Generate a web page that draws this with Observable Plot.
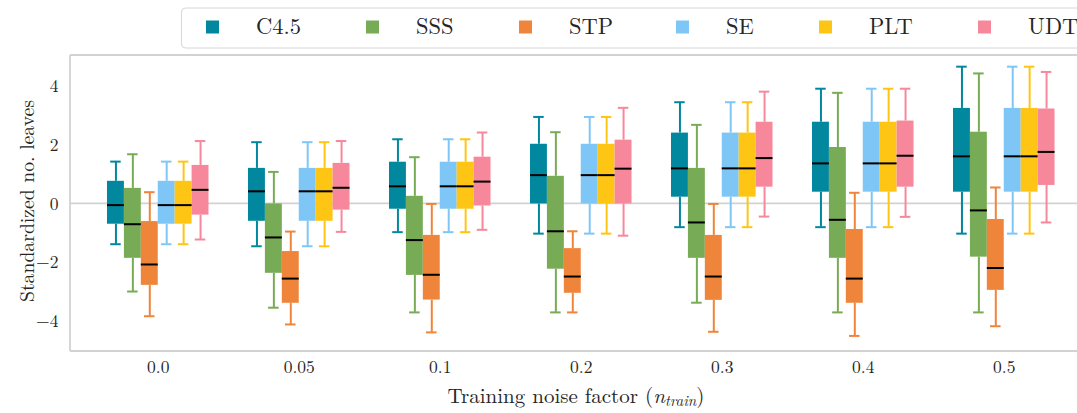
<!DOCTYPE html>
<html>
<head>
<meta charset="utf-8">
<script src="https://cdn.jsdelivr.net/npm/d3@7"></script>
<script src="https://cdn.jsdelivr.net/npm/@observablehq/plot@0.6"></script>
<style>
  html, body { margin: 0; padding: 0; background: #fff; overflow: hidden; }
  body { width: 1077px; height: 413px; font-family: "Latin Modern Roman", "Liberation Serif", serif; color: #262626; }
  #legend { width: 1077px; height: 50px; overflow: hidden; }
  #legend svg, #chart svg { display: block; }
</style>
</head>
<body>
<div id="legend"></div>
<div id="chart"></div>
<script>
// ---- data ----
const groups = ["0.0", "0.05", "0.1", "0.2", "0.3", "0.4", "0.5"];
const series = ["C4.5", "SSS", "STP", "SE", "PLT", "UDT"];
const colors = ["#01879e", "#78ab56", "#ef853b", "#7ec6f5", "#fec514", "#f7889c"];
const yTicks = [-4, -2, 0, 2, 4];

// rows: series (C4.5, SSS, STP, SE, PLT, UDT); columns: groups
const whiskerLow = [
  [-1.37, -1.44, -0.96, -1.01, -0.79, -0.79, -1.01],
  [-2.98, -3.53, -3.69, -3.69, -3.36, -3.69, -3.69],
  [-3.82, -4.10, -4.37, -3.69, -4.35, -4.49, -4.16],
  [-1.37, -1.44, -0.96, -1.01, -0.79, -0.79, -1.01],
  [-1.37, -1.44, -0.96, -1.01, -0.79, -0.79, -1.01],
  [-1.21, -0.95, -0.88, -1.08, -0.43, -0.44, -0.63]
];
const quartile1 = [
  [-0.69, -0.59, -0.18, 0.00, 0.23, 0.40, 0.40],
  [-1.85, -2.36, -2.43, -2.22, -1.85, -1.85, -1.81],
  [-2.77, -3.38, -3.27, -3.04, -3.28, -3.38, -2.94],
  [-0.69, -0.59, -0.18, 0.00, 0.23, 0.40, 0.40],
  [-0.69, -0.59, -0.18, 0.00, 0.23, 0.40, 0.40],
  [-0.38, -0.21, -0.07, 0.00, 0.57, 0.57, 0.63]
];
const median = [
  [-0.04, 0.43, 0.60, 0.98, 1.21, 1.38, 1.62],
  [-0.69, -1.14, -1.23, -0.93, -0.63, -0.54, -0.22],
  [-2.06, -2.54, -2.41, -2.47, -2.47, -2.54, -2.18],
  [-0.04, 0.43, 0.60, 0.98, 1.21, 1.38, 1.62],
  [-0.04, 0.43, 0.60, 0.98, 1.21, 1.38, 1.62],
  [0.48, 0.55, 0.76, 1.20, 1.56, 1.64, 1.77]
];
const quartile3 = [
  [0.77, 1.21, 1.42, 2.03, 2.41, 2.78, 3.25],
  [0.53, 0.00, 0.26, 0.94, 1.21, 1.92, 2.44],
  [-0.60, -1.62, -1.07, -1.52, -1.07, -0.87, -0.53],
  [0.77, 1.21, 1.42, 2.03, 2.41, 2.78, 3.25],
  [0.77, 1.21, 1.42, 2.03, 2.41, 2.78, 3.25],
  [1.31, 1.38, 1.59, 2.17, 2.78, 2.82, 3.23]
];
const whiskerHigh = [
  [1.44, 2.10, 2.20, 2.96, 3.46, 3.92, 4.67],
  [1.69, 1.09, 1.59, 2.44, 2.69, 3.78, 4.44],
  [0.40, -0.94, 0.00, -0.93, 0.00, 0.38, 0.56],
  [1.44, 2.10, 2.20, 2.96, 3.46, 3.92, 4.67],
  [1.44, 2.10, 2.20, 2.96, 3.46, 3.92, 4.67],
  [2.14, 2.14, 2.43, 3.27, 3.82, 3.92, 4.49]
];

const rows = series.flatMap((s, i) => groups.map((g, j) => ({
  series: s, group: g,
  lo: whiskerLow[i][j], q1: quartile1[i][j], med: median[i][j],
  q3: quartile3[i][j], hi: whiskerHigh[i][j]
})));

const FONT = "'Latin Modern Roman', 'Liberation Serif', serif";
const INK = "#262626";

// ---- legend (own small SVG above the chart) ----
const legendLeft = [206, 366, 519, 676, 819, 978];
const lg = d3.select("#legend").append("svg").attr("width", 1077).attr("height", 50);
lg.append("rect").attr("x", 181.5).attr("y", 8).attr("width", 930).attr("height", 40).attr("rx", 4)
  .attr("fill", "#fff").attr("stroke", "#d6d6d6").attr("stroke-width", 1);
series.forEach((s, i) => {
  lg.append("rect").attr("x", legendLeft[i]).attr("y", 20.5).attr("width", 13).attr("height", 13).attr("fill", colors[i]);
  lg.append("text").attr("x", legendLeft[i] + 50).attr("y", 33.5).attr("fill", INK)
    .style("font-family", FONT).style("font-size", "22.5px").text(s);
});

// ---- chart ----
const W = 1077, H = 363, mL = 70, mT = 5, mB = 62;
const chart = Plot.plot({
  width: W, height: H,
  marginTop: mT, marginBottom: mB, marginLeft: mL, marginRight: 0,
  style: { fontFamily: FONT, fontSize: "17.5px", color: INK, background: "transparent" },
  facet: { data: rows, x: "group" },
  fx: { domain: groups, range: [67.5, 1094], paddingInner: 0.28, paddingOuter: 0.28, round: false, label: null, axis: "bottom", tickSize: 0, tickPadding: 9 },
  x: { domain: series, padding: 0, round: false, axis: null },
  y: { domain: [-5.02, 5.05] },
  color: { domain: series, range: colors },
  marks: [
    Plot.ruleX(rows, { x: "series", y1: "lo", y2: "q1", stroke: "series", strokeWidth: 2 }),
    Plot.ruleX(rows, { x: "series", y1: "q3", y2: "hi", stroke: "series", strokeWidth: 2 }),
    Plot.tickY(rows, { x: "series", y: "lo", stroke: "series", strokeWidth: 2, insetLeft: 3.2, insetRight: 3.2 }),
    Plot.tickY(rows, { x: "series", y: "hi", stroke: "series", strokeWidth: 2, insetLeft: 3.2, insetRight: 3.2 }),
    Plot.barY(rows, { x: "series", y1: "q1", y2: "q3", fill: "series" }),
    Plot.tickY(rows, { x: "series", y: "med", stroke: "black", strokeWidth: 2 }),
    Plot.axisY(yTicks, { tickSize: 0, tickPadding: 12, dx: -37, label: null, fontSize: 17.5 })
  ]
});
document.getElementById("chart").appendChild(chart);

// frame, zero line and axis titles drawn with the chart's own y scale
const ys = chart.scale("y");
const svg = d3.select(chart);
const back = svg.insert("g", "g").attr("class", "bg");
const yTop = ys.apply(ys.domain[1]), yBot = ys.apply(ys.domain[0]), y0 = ys.apply(0);
back.append("line").attr("x1", mL).attr("x2", W).attr("y1", y0).attr("y2", y0)
  .attr("stroke", "#d2d2d2").attr("stroke-width", 1.8);
const fr = svg.append("g").attr("fill", "none").attr("stroke", "#d2d2d2").attr("stroke-width", 1.8);
fr.append("line").attr("x1", mL).attr("x2", mL).attr("y1", yTop).attr("y2", yBot);
fr.append("line").attr("x1", mL).attr("x2", W).attr("y1", yTop).attr("y2", yTop);
fr.append("line").attr("x1", mL).attr("x2", W).attr("y1", yBot).attr("y2", yBot);

svg.append("text")
  .attr("transform", `translate(33.5,${(yTop + yBot) / 2 - 2}) rotate(-90)`)
  .attr("text-anchor", "middle").attr("fill", INK)
  .style("font-size", "19.7px").style("font-family", FONT)
  .text("Standardized no. leaves");

const xt = svg.append("text")
  .attr("x", 576).attr("y", yBot + 51.5)
  .attr("text-anchor", "middle").attr("fill", INK)
  .style("font-size", "21px").style("font-family", FONT);
xt.append("tspan").text("Training noise factor (");
xt.append("tspan").style("font-style", "italic").text("n");
xt.append("tspan").style("font-style", "italic").style("font-size", "15px").attr("dy", 3.5).text("train");
xt.append("tspan").attr("dy", -3.5).text(")");
</script>
</body>
</html>
